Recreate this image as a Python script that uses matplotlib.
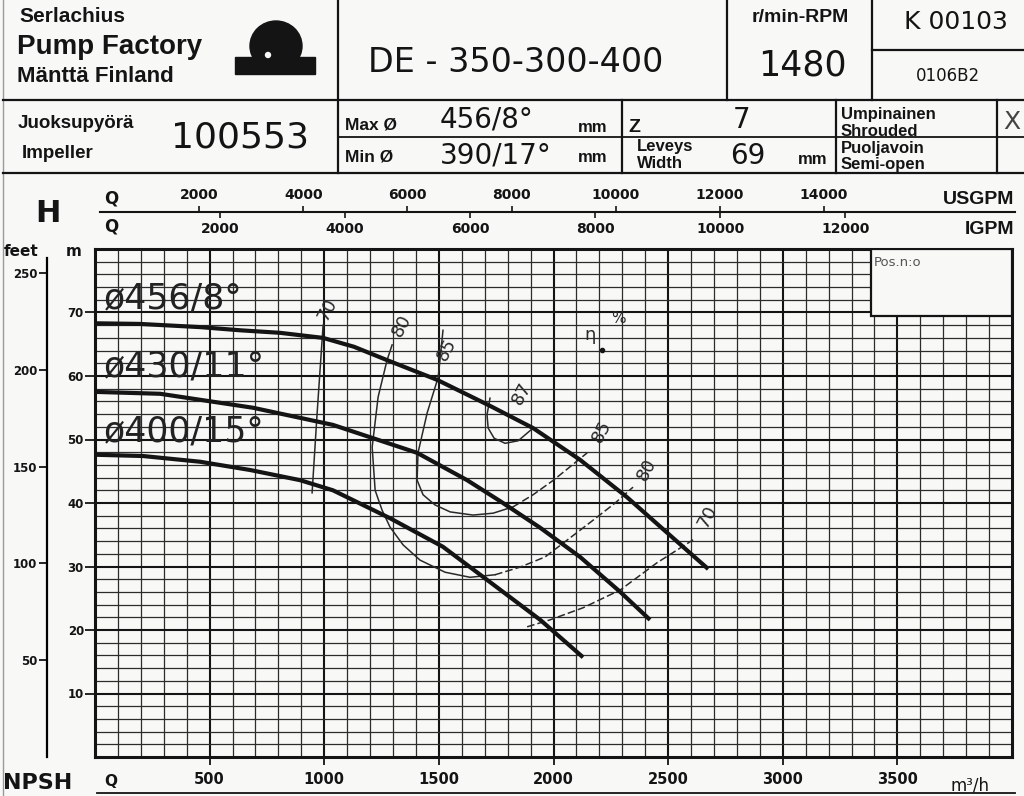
import numpy as np
import matplotlib.pyplot as plt
from matplotlib.patches import Rectangle, Ellipse
from matplotlib.lines import Line2D

# --- pump curve data (Q in m3/h, H in m) ---
q_456 = [0, 196, 458, 633, 807, 995, 1130, 1274, 1492, 1723, 1911, 2116, 2321, 2565, 2675]
h_456 = [68.3, 68.2, 67.7, 67.2, 66.8, 66.0, 64.6, 62.5, 59.4, 55.3, 51.8, 46.8, 40.9, 33.1, 29.6]

q_430 = [0, 284, 689, 1038, 1405, 1623, 1767, 1942, 2116, 2291, 2421]
h_430 = [57.5, 57.2, 55.0, 52.3, 47.9, 43.6, 40.3, 36.1, 31.5, 26.0, 21.6]

q_400 = [0, 209, 458, 676, 894, 1038, 1287, 1518, 1710, 1942, 2129]
h_400 = [47.6, 47.4, 46.5, 45.2, 43.6, 42.0, 37.6, 33.1, 27.9, 21.6, 15.7]

# efficiency contours
q_e70a = [995, 969, 947]
h_e70a = [68.0, 54.2, 41.6]
q_e70b = [1885, 1985, 2129, 2291, 2452, 2609]
h_e70b = [20.5, 21.6, 23.5, 26.3, 30.6, 34.2]
q_e80 = [1296, 1274, 1235, 1209, 1222, 1252, 1287, 1344, 1418, 1527, 1636, 1745,
         1854, 1963, 2072, 2173, 2269, 2347]
h_e80 = [64.9, 62.5, 56.7, 48.8, 42.0, 38.9, 36.2, 33.4, 31.0, 29.1, 28.3, 28.7,
         29.9, 31.5, 34.5, 37.3, 40.0, 42.5]
q_e85 = [1518, 1497, 1449, 1409, 1405, 1431, 1483, 1549, 1649, 1737, 1824, 1911,
         2000, 2072, 2147]
h_e85 = [67.2, 59.8, 54.2, 47.9, 43.6, 41.3, 39.7, 38.6, 38.1, 38.4, 39.4, 41.3,
         43.6, 45.7, 47.9]
q_e87 = [1723, 1710, 1715, 1741, 1789, 1846, 1911]
h_e87 = [56.5, 53.9, 51.8, 50.2, 49.4, 49.8, 51.8]

eff_labels = ['70', '80', '85', '87', '85', '80', '70']
eff_q = [1012, 1339, 1536, 1863, 2212, 2408, 2670]
eff_h = [70.4, 68.0, 64.1, 57.3, 51.2, 45.2, 37.8]

dia_labels = ['ø456/8°', 'ø430/11°', 'ø400/15°']
dia_h = [72.2, 61.5, 51.3]

# axis ticks
q_ticks = [500, 1000, 1500, 2000, 2500, 3000, 3500]
h_ticks = [10, 20, 30, 40, 50, 60, 70]
ft_ticks = [50, 100, 150, 200, 250]
usgpm_ticks = [2000, 4000, 6000, 8000, 10000, 12000, 14000]
igpm_ticks = [2000, 4000, 6000, 8000, 10000, 12000]

M3H_PER_USGPM = 0.22712
M3H_PER_IGPM = 0.27277
FT_PER_M = 3.28084

W, H = 1024, 796
BG = '#f8f8f6'
INK = '#141414'
HDR = ['Liberation Sans', 'DejaVu Sans']
NUM = ['DejaVu Sans']

fig = plt.figure(figsize=(W / 100, H / 100), dpi=100)
fig.patch.set_facecolor(BG)


def fx(x):
    return x / W


def fy(y):
    return 1 - y / H


def t(x, y, s, **kw):
    kw.setdefault('va', 'center')
    kw.setdefault('color', INK)
    return fig.text(fx(x), fy(y), s, **kw)


def hline(y, x0, x1, lw=1.6, color=INK):
    fig.add_artist(Line2D([fx(x0), fx(x1)], [fy(y), fy(y)], lw=lw, color=color,
                          transform=fig.transFigure))


def vline(x, y0, y1, lw=1.6, color=INK):
    fig.add_artist(Line2D([fx(x), fx(x)], [fy(y0), fy(y1)], lw=lw, color=color,
                          transform=fig.transFigure))


# --- header table ---
vline(3, 0, 796, lw=1.0, color='#9a9a9a')
hline(100, 3, 1024)
hline(173, 3, 1024)
vline(338, 0, 173)
vline(727, 0, 100)
vline(872, 0, 100)
hline(50, 872, 1024)
vline(622, 100, 173)
vline(836, 100, 173)
vline(997, 100, 173)
hline(137, 338, 1024, lw=1.3)

t(19, 17, 'Serlachius', size=15, weight='bold', family=HDR)
t(17, 47, 'Pump Factory', size=20, weight='bold', family=HDR)
t(17, 76, 'Mänttä Finland', size=16, weight='bold', family=HDR)

# logo
fig.add_artist(Ellipse((fx(276), fy(46)), 52 / W, 50 / H, color=INK, transform=fig.transFigure))
fig.add_artist(Rectangle((fx(235), fy(74)), 80 / W, 17 / H, color=INK, transform=fig.transFigure))
fig.add_artist(Ellipse((fx(268), fy(55)), 5 / W, 5 / H, color=BG, transform=fig.transFigure))

t(368, 63, 'DE - 350-300-400', size=24, family=NUM)
t(800, 17, 'r/min-RPM', size=14, weight='bold', family=HDR, ha='center')
t(802, 65, '1480', size=25, family=NUM, ha='center')
t(956, 22, 'K 00103', size=18, family=NUM, ha='center')
t(948, 76, '0106B2', size=12, family=NUM, ha='center')

t(18, 124, 'Juoksupyörä', size=13.5, weight='bold', family=HDR)
t(22, 153, 'Impeller', size=13.5, weight='bold', family=HDR)
t(240, 138, '100553', size=26, family=NUM, ha='center')

t(345, 125, 'Max Ø', size=12.5, weight='bold', family=HDR)
t(440, 120, '456/8°', size=20, family=NUM)
t(578, 127, 'mm', size=12, weight='bold', family=HDR)
t(345, 157, 'Min Ø', size=12.5, weight='bold', family=HDR)
t(440, 155, '390/17°', size=20, family=NUM)
t(578, 158, 'mm', size=12, weight='bold', family=HDR)

t(628, 127, 'Z', size=14, weight='bold', family=HDR)
t(742, 120, '7', size=20, family=NUM, ha='center')
t(637, 147, 'Leveys', size=12, weight='bold', family=HDR)
t(637, 163, 'Width', size=12, weight='bold', family=HDR)
t(748, 156, '69', size=20, family=NUM, ha='center')
t(798, 160, 'mm', size=12, weight='bold', family=HDR)

t(841, 114, 'Umpinainen', size=12, weight='bold', family=HDR)
t(841, 131, 'Shrouded', size=12, weight='bold', family=HDR)
t(841, 148, 'Puoljavoin', size=12, weight='bold', family=HDR)
t(841, 165, 'Semi-open', size=12, weight='bold', family=HDR)
t(1003, 122, 'X', size=18, family=NUM, color='#444')

# --- main chart ---
L, R, B, T = 95, 1012, 757, 249
ax = fig.add_axes([fx(L), fy(B), (R - L) / W, (B - T) / H])
ax.set_facecolor(BG)
ax.set_xlim(0, 4000)
ax.set_ylim(0, 80)
ax.set_xticks(q_ticks)
ax.set_xticklabels([str(v) for v in q_ticks])
ax.set_xticks(np.arange(0, 4001, 100), minor=True)
ax.set_yticks(h_ticks)
ax.set_yticklabels([str(v) for v in h_ticks])
ax.set_yticks(np.arange(0, 81, 2), minor=True)
ax.grid(which='minor', color='#2c2c2c', lw=0.9)
ax.grid(which='major', color=INK, lw=1.5)
ax.set_axisbelow(True)
for s in ax.spines.values():
    s.set_linewidth(2.2)
    s.set_color(INK)
ax.tick_params(axis='x', which='major', direction='out', length=6, width=1.3,
               labelsize=10.5, pad=5, colors=INK)
ax.tick_params(axis='y', which='major', direction='out', length=7, width=1.3,
               labelsize=8.5, pad=1, colors=INK)
ax.tick_params(which='minor', length=0)
for lab in ax.get_xticklabels() + ax.get_yticklabels():
    lab.set_fontweight('bold')

# Pos.n:o box
ax.add_patch(Rectangle((0.846, 0.868), 0.154, 0.132, transform=ax.transAxes,
                       facecolor=BG, edgecolor=INK, lw=1.6, zorder=3))
ax.text(0.849, 0.973, 'Pos.n:o', transform=ax.transAxes, fontsize=9.5,
        color='#555', va='center', zorder=4)

# efficiency contours, right-hand branches drawn dashed as on the sheet
ekw = dict(color='#2a2a2a', lw=1.1, zorder=4)
dash = (0, (5, 2))
ax.plot(q_e70a, h_e70a, **ekw)
ax.plot(q_e70b, h_e70b, ls=dash, **ekw)
ax.plot(q_e80[:12], h_e80[:12], **ekw)
ax.plot(q_e80[11:], h_e80[11:], ls=dash, **ekw)
ax.plot(q_e85[:11], h_e85[:11], **ekw)
ax.plot(q_e85[10:], h_e85[10:], ls=dash, **ekw)
ax.plot(q_e87, h_e87, **ekw)
for s, q, h in zip(eff_labels, eff_q, eff_h):
    ax.text(q, h, s, rotation=62, fontsize=13, color='#2a2a2a', ha='center',
            va='center', rotation_mode='anchor', zorder=5)
ax.text(2160, 66.5, 'η', fontsize=13, color='#2a2a2a', ha='center', va='center', zorder=5)
ax.text(2285, 69.0, '%', fontsize=11, color='#2a2a2a', ha='center', va='center', zorder=5)
ax.plot([2212], [64.1], 'o', ms=3, color=INK, zorder=5)

# head curves
hkw = dict(color=INK, lw=3.0, solid_capstyle='butt', zorder=6)
ax.plot(q_456, h_456, **hkw)
ax.plot(q_430, h_430, **hkw)
ax.plot(q_400, h_400, **hkw)
for s, h in zip(dia_labels, dia_h):
    ax.text(40, h, s, fontsize=25, color='#222', va='center', ha='left',
            family=NUM, zorder=7)

t(R - 42, 785, 'm³/h', size=12, family=NUM, ha='center')

# feet scale
ax_ft = fig.add_axes([fx(47), fy(B), 1e-4, (B - T) / H])
ax_ft.set_ylim(0, 80 * FT_PER_M)
ax_ft.patch.set_visible(False)
for k in ['right', 'top', 'bottom']:
    ax_ft.spines[k].set_visible(False)
ax_ft.spines['left'].set_linewidth(1.6)
ax_ft.spines['left'].set_bounds(0, 258)
ax_ft.set_xticks([])
ax_ft.set_yticks(ft_ticks)
ax_ft.set_yticklabels([str(v) for v in ft_ticks])
ax_ft.tick_params(axis='y', direction='out', length=6, width=1.3, labelsize=8.5,
                  pad=1, colors=INK)
for lab in ax_ft.get_yticklabels():
    lab.set_fontweight('bold')

t(35, 214, 'H', size=22, weight='bold', family=NUM)
t(4, 251, 'feet', size=11, weight='bold', family=NUM)
t(66, 252, 'm', size=11, weight='bold', family=NUM)

# flow scales above the chart
Y_Q = 212
hline(Y_Q, 100, 1015, lw=1.5)
ax_us = fig.add_axes([fx(L), fy(Y_Q), (R - L) / W, 1e-4])
ax_us.set_xlim(0, 4000 / M3H_PER_USGPM)
ax_ig = fig.add_axes([fx(L), fy(Y_Q), (R - L) / W, 1e-4])
ax_ig.set_xlim(0, 4000 / M3H_PER_IGPM)
for a in (ax_us, ax_ig):
    a.patch.set_visible(False)
    for s in a.spines.values():
        s.set_visible(False)
    a.set_yticks([])
ax_us.xaxis.tick_top()
ax_us.set_xticks(usgpm_ticks)
ax_us.set_xticklabels([str(v) for v in usgpm_ticks])
ax_us.tick_params(axis='x', direction='out', length=4, width=1.2, labelsize=10,
                  pad=3, colors=INK)
ax_ig.set_xticks(igpm_ticks)
ax_ig.set_xticklabels([str(v) for v in igpm_ticks])
ax_ig.tick_params(axis='x', direction='out', length=4, width=1.2, labelsize=10,
                  pad=3, colors=INK)
for lab in ax_us.get_xticklabels() + ax_ig.get_xticklabels():
    lab.set_fontweight('bold')

t(111, 199, 'Q', size=12, weight='bold', family=NUM, ha='center')
t(111, 226, 'Q', size=12, weight='bold', family=NUM, ha='center')
t(1014, 200, 'USGPM', size=14, weight='bold', family=HDR, ha='right')
t(1014, 229, 'IGPM', size=14, weight='bold', family=HDR, ha='right')

# NPSH strip at the bottom edge
t(3, 783, 'NPSH', size=16, weight='bold', family=NUM)
t(111, 782, 'Q', size=11, weight='bold', family=NUM, ha='center')
hline(793, 97, 1015, lw=1.3)

fig.savefig('out.png', dpi=100, facecolor=BG)
